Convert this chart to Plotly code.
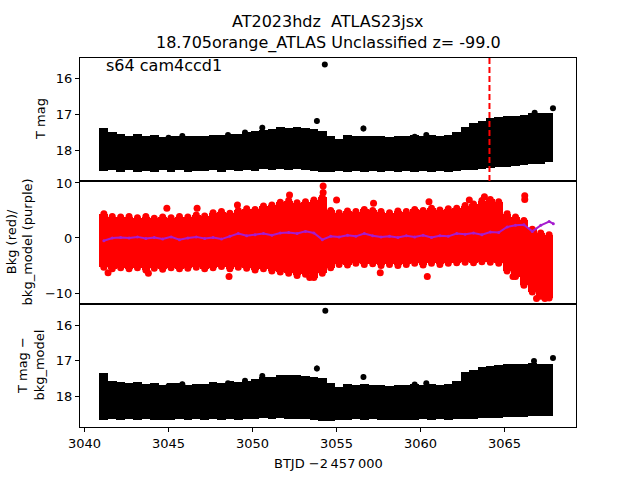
import plotly.graph_objects as go
from plotly.subplots import make_subplots

# ---------------- data ----------------
t_bins = [3041.15, 3041.65, 3042.15, 3042.65, 3043.15, 3043.65, 3044.15, 3044.65,
          3045.15, 3045.65, 3046.15, 3046.65, 3047.15, 3047.65, 3048.15, 3048.65,
          3049.15, 3049.65, 3050.15, 3050.65, 3051.15, 3051.65, 3052.15, 3052.65,
          3053.15, 3053.65, 3054.15, 3054.65, 3055.15, 3055.65, 3056.15, 3056.65,
          3057.15, 3057.65, 3058.15, 3058.65, 3059.15, 3059.65, 3060.15, 3060.65,
          3061.15, 3061.65, 3062.15, 3062.65, 3063.15, 3063.65, 3064.15, 3064.65,
          3065.15, 3065.65, 3066.15, 3066.65, 3067.15, 3067.65]

# panel 1: T mag band (bright edge, faint edge)
tmag_top = [17.40, 17.50, 17.55, 17.60, 17.56, 17.62, 17.58, 17.64,
            17.60, 17.62, 17.60, 17.62, 17.60, 17.57, 17.58, 17.55,
            17.55, 17.50, 17.48, 17.45, 17.42, 17.36, 17.38, 17.36,
            17.40, 17.42, 17.48, 17.60, 17.70, 17.58, 17.62, 17.60,
            17.62, 17.60, 17.64, 17.60, 17.62, 17.58, 17.60, 17.58,
            17.60, 17.58, 17.50, 17.35, 17.25, 17.18, 17.12, 17.08,
            17.05, 17.04, 17.02, 16.98, 16.96, 16.96]
tmag_bot = [18.58, 18.56, 18.60, 18.56, 18.60, 18.57, 18.60, 18.56,
            18.60, 18.56, 18.60, 18.57, 18.59, 18.56, 18.60, 18.56,
            18.58, 18.55, 18.57, 18.54, 18.55, 18.53, 18.55, 18.53,
            18.55, 18.57, 18.60, 18.62, 18.58, 18.60, 18.57, 18.60,
            18.57, 18.60, 18.58, 18.60, 18.58, 18.60, 18.57, 18.60,
            18.57, 18.60, 18.58, 18.56, 18.55, 18.52, 18.50, 18.48,
            18.46, 18.44, 18.42, 18.40, 18.38, 18.34]

# panel 2: background (red) band and background model (purple)
bkg_top = [4.4, 3.9, 3.8, 3.9, 3.7, 3.9, 3.6, 3.8,
           3.7, 3.9, 3.8, 4.2, 4.0, 4.6, 4.8, 4.5,
           5.0, 5.3, 5.2, 5.8, 6.0, 6.5, 6.8, 6.4,
           6.6, 6.9, 7.4, 5.0, 4.6, 4.9, 4.8, 5.2,
           5.0, 4.8, 4.6, 4.9, 4.8, 5.2, 5.0, 5.4,
           5.1, 5.3, 5.4, 5.9, 6.2, 6.8, 7.0, 6.6,
           4.4, 3.8, 3.2, 1.6, 0.9, 0.6]
bkg_bot = [-5.3, -5.6, -5.4, -5.6, -5.4, -5.8, -5.5, -5.7,
           -5.4, -5.6, -5.5, -5.3, -5.6, -5.4, -5.2, -5.6,
           -5.3, -5.5, -5.8, -5.6, -6.0, -6.2, -6.4, -6.8,
           -6.6, -7.2, -6.4, -5.4, -4.8, -4.9, -4.6, -4.8,
           -4.7, -5.0, -4.8, -5.0, -4.8, -4.6, -4.9, -4.6,
           -4.8, -4.6, -4.5, -4.4, -4.5, -4.3, -4.4, -4.6,
           -6.0, -7.0, -8.6, -9.8, -10.6, -10.9]
model_t = t_bins + [3067.9]
bkg_model = [-0.5, 0.0, 0.1, 0.0, 0.2, -0.1, 0.1, -0.2,
             0.2, -0.3, 0.0, 0.2, -0.1, 0.1, -0.2, 0.3,
             0.8, 0.4, 0.6, 0.8, 0.5, 0.9, 1.0, 0.8,
             1.2, 0.9, -0.3, 0.3, 0.2, 0.5, 0.3, 0.8,
             0.4, 0.2, 0.3, 0.1, 0.4, 0.2, 0.5, 0.1,
             0.4, 0.3, 0.8, 0.7, 0.9, 0.6, 1.1, 1.0,
             2.0, 2.3, 2.4, 1.2, 2.3, 3.0, 2.6]
bkg_out_t = [3054.2, 3054.2, 3052.2, 3055.0, 3066.2, 3066.2, 3063.8, 3049.1,
             3044.9, 3046.7, 3060.5, 3062.9, 3057.2, 3053.4, 3060.4, 3065.5,
             3048.6, 3043.8, 3057.6, 3041.4, 3066.9, 3067.4]
bkg_out_v = [9.45, 8.25, 7.8, 6.9, 7.7, 7.0, 7.5, 6.0,
             5.4, 5.4, 6.6, 6.9, 6.3, -7.2, -7.0, -7.0,
             -7.0, -6.4, -6.3, -6.3, -11.0, -11.0]

# panel 3: T mag - bkg_model band
diff_top = [17.35, 17.55, 17.58, 17.62, 17.60, 17.64, 17.62, 17.66,
            17.62, 17.62, 17.66, 17.64, 17.64, 17.60, 17.62, 17.56,
            17.58, 17.55, 17.50, 17.46, 17.44, 17.40, 17.40, 17.38,
            17.42, 17.44, 17.48, 17.62, 17.72, 17.64, 17.66, 17.64,
            17.68, 17.66, 17.70, 17.66, 17.68, 17.64, 17.66, 17.64,
            17.66, 17.64, 17.55, 17.32, 17.24, 17.18, 17.14, 17.10,
            17.09, 17.08, 17.08, 17.07, 17.08, 17.08]
diff_bot = [18.64, 18.62, 18.66, 18.63, 18.66, 18.63, 18.66, 18.64,
            18.66, 18.62, 18.66, 18.63, 18.65, 18.62, 18.66, 18.63,
            18.64, 18.62, 18.63, 18.60, 18.62, 18.60, 18.62, 18.62,
            18.63, 18.65, 18.68, 18.68, 18.64, 18.66, 18.63, 18.66,
            18.63, 18.66, 18.64, 18.66, 18.64, 18.66, 18.63, 18.66,
            18.63, 18.66, 18.63, 18.62, 18.61, 18.60, 18.59, 18.58,
            18.57, 18.56, 18.56, 18.55, 18.54, 18.53]

# isolated points with error bars
spk1_t = [3054.3, 3067.88, 3053.83, 3056.6, 3050.58, 3049.55, 3045.82, 3045.0,
          3066.79, 3048.54, 3060.34, 3059.65]
spk1_mag = [15.62, 16.84, 17.19, 17.40, 17.38, 17.51, 17.61, 17.66,
            16.96, 17.58, 17.58, 17.63]
spk1_err = [0.0, 0.03, 0.08, 0.08, 0.08, 0.07, 0.07, 0.06,
            0.06, 0.06, 0.06, 0.06]
spk3_t = [3054.33, 3067.88, 3066.75, 3053.83, 3056.6, 3050.58, 3049.55, 3045.82,
          3045.0, 3048.54, 3060.34, 3059.65]
spk3_mag = [15.60, 16.92, 17.00, 17.21, 17.45, 17.42, 17.55, 17.65,
            17.70, 17.62, 17.62, 17.66]
spk3_err = [0.0, 0.04, 0.05, 0.08, 0.08, 0.08, 0.07, 0.07,
            0.06, 0.06, 0.06, 0.06]

disc_t = 3064.1
x_range = [3039.73, 3069.25]
title1 = "AT2023hdz \u00a0ATLAS23jsx"
title2 = "18.705orange_ATLAS Unclassified z= -99.0"
sector_label = "s64 cam4ccd1"

# ---------------- figure ----------------
FONT = "DejaVu Sans, Arial, sans-serif"
RED = "#ff0000"
PURPLE = "#a51ccf"

fig = make_subplots(rows=3, cols=1, shared_xaxes=True, vertical_spacing=0)

BW = 0.52
fig.add_trace(go.Bar(x=t_bins, base=tmag_top,
                     y=[b - a for a, b in zip(tmag_top, tmag_bot)],
                     width=BW, marker=dict(color="black", line=dict(width=0))),
              row=1, col=1)
fig.add_trace(go.Scatter(x=spk1_t, y=spk1_mag, mode="markers",
                         marker=dict(color="black", size=6),
                         error_y=dict(type="data", array=spk1_err, color="black",
                                      thickness=1.5, width=0)),
              row=1, col=1)

fig.add_trace(go.Bar(x=t_bins, base=bkg_bot,
                     y=[a - b for a, b in zip(bkg_top, bkg_bot)],
                     width=BW, marker=dict(color=RED, line=dict(width=0))),
              row=2, col=1)
fig.add_trace(go.Scatter(x=t_bins + t_bins, y=bkg_top + bkg_bot, mode="markers",
                         marker=dict(color=RED, size=7)), row=2, col=1)
fig.add_trace(go.Scatter(x=bkg_out_t, y=bkg_out_v, mode="markers",
                         marker=dict(color=RED, size=7)), row=2, col=1)
fig.add_trace(go.Scatter(x=model_t, y=bkg_model, mode="lines+markers",
                         line=dict(color=PURPLE, width=2),
                         marker=dict(color=PURPLE, size=3)), row=2, col=1)

fig.add_trace(go.Bar(x=t_bins, base=diff_top,
                     y=[b - a for a, b in zip(diff_top, diff_bot)],
                     width=BW, marker=dict(color="black", line=dict(width=0))),
              row=3, col=1)
fig.add_trace(go.Scatter(x=spk3_t, y=spk3_mag, mode="markers",
                         marker=dict(color="black", size=6),
                         error_y=dict(type="data", array=spk3_err, color="black",
                                      thickness=1.5, width=0)),
              row=3, col=1)

fig.add_shape(type="line", xref="x", yref="y domain", x0=disc_t, x1=disc_t,
              y0=0, y1=1, line=dict(color=RED, width=2, dash="6px,3px"))

axis_common = dict(showline=True, linecolor="black", linewidth=1, mirror=True,
                   showgrid=False, zeroline=False,
                   tickfont=dict(family=FONT, size=13, color="black"))
for r in (1, 2, 3):
    fig.update_xaxes(range=x_range, row=r, col=1, **axis_common)
fig.update_xaxes(showticklabels=False, ticks="", row=1, col=1)
fig.update_xaxes(showticklabels=False, ticks="", row=2, col=1)
fig.update_xaxes(ticks="outside", ticklen=4, tickwidth=1, tickcolor="black",
                 tickvals=[3040, 3045, 3050, 3055, 3060, 3065], row=3, col=1)

fig.update_yaxes(range=[18.86, 15.44], tickvals=[16, 17, 18], row=1, col=1,
                 ticks="outside", ticklen=4, tickcolor="black", **axis_common)
fig.update_yaxes(range=[-12.0, 10.36], tickvals=[-10, 0, 10], row=2, col=1,
                 ticks="outside", ticklen=4, tickcolor="black", **axis_common)
fig.update_yaxes(range=[18.845, 15.41], tickvals=[16, 17, 18], row=3, col=1,
                 ticks="outside", ticklen=4, tickcolor="black", **axis_common)

# plot area on screen: x 80..576, y 58..427
H = 369.0
def py(p):
    return (427.0 - p) / H
def px(p):
    return (p - 80.0) / 496.0

ann = []
ann.append(dict(text=title1, x=0.5, y=py(21.5), xref="paper", yref="paper",
                xanchor="center", yanchor="middle", showarrow=False,
                font=dict(family=FONT, size=16, color="black")))
ann.append(dict(text=title2, x=0.5, y=py(43), xref="paper", yref="paper",
                xanchor="center", yanchor="middle", showarrow=False,
                font=dict(family=FONT, size=16, color="black")))
ann.append(dict(text=sector_label, x=px(104), y=py(65), xref="paper", yref="paper",
                xanchor="left", yanchor="middle", showarrow=False,
                font=dict(family=FONT, size=16, color="black")))
ann.append(dict(text="BTJD \u22122\u2009457\u2009000", x=0.5, y=py(463), xref="paper",
                yref="paper", xanchor="center", yanchor="middle", showarrow=False,
                font=dict(family=FONT, size=13, color="black")))
ann.append(dict(text="T mag", x=px(40), y=py(119), xref="paper", yref="paper",
                xanchor="center", yanchor="middle", showarrow=False, textangle=-90,
                font=dict(family=FONT, size=13, color="black")))
ann.append(dict(text="Bkg (red)/<br>bkg_model (purple)", x=px(20), y=py(242.4),
                xref="paper", yref="paper", xanchor="center", yanchor="middle",
                showarrow=False, textangle=-90,
                font=dict(family=FONT, size=13, color="black")))
ann.append(dict(text="T mag \u2212<br>bkg_model", x=px(31), y=py(365.6),
                xref="paper", yref="paper", xanchor="center", yanchor="middle",
                showarrow=False, textangle=-90,
                font=dict(family=FONT, size=13, color="black")))

fig.update_layout(width=640, height=480, showlegend=False,
                  margin=dict(l=80, r=64, t=58, b=53, pad=0),
                  plot_bgcolor="white", paper_bgcolor="white",
                  bargap=0, barmode="overlay", annotations=ann,
                  font=dict(family=FONT, size=13, color="black"))

fig.write_html("out.html",
               config={"displayModeBar": False, "staticPlot": True},
               post_script="document.body.style.margin='0px';"
                           "document.body.style.padding='0px';"
                           "document.body.style.overflow='hidden';")
